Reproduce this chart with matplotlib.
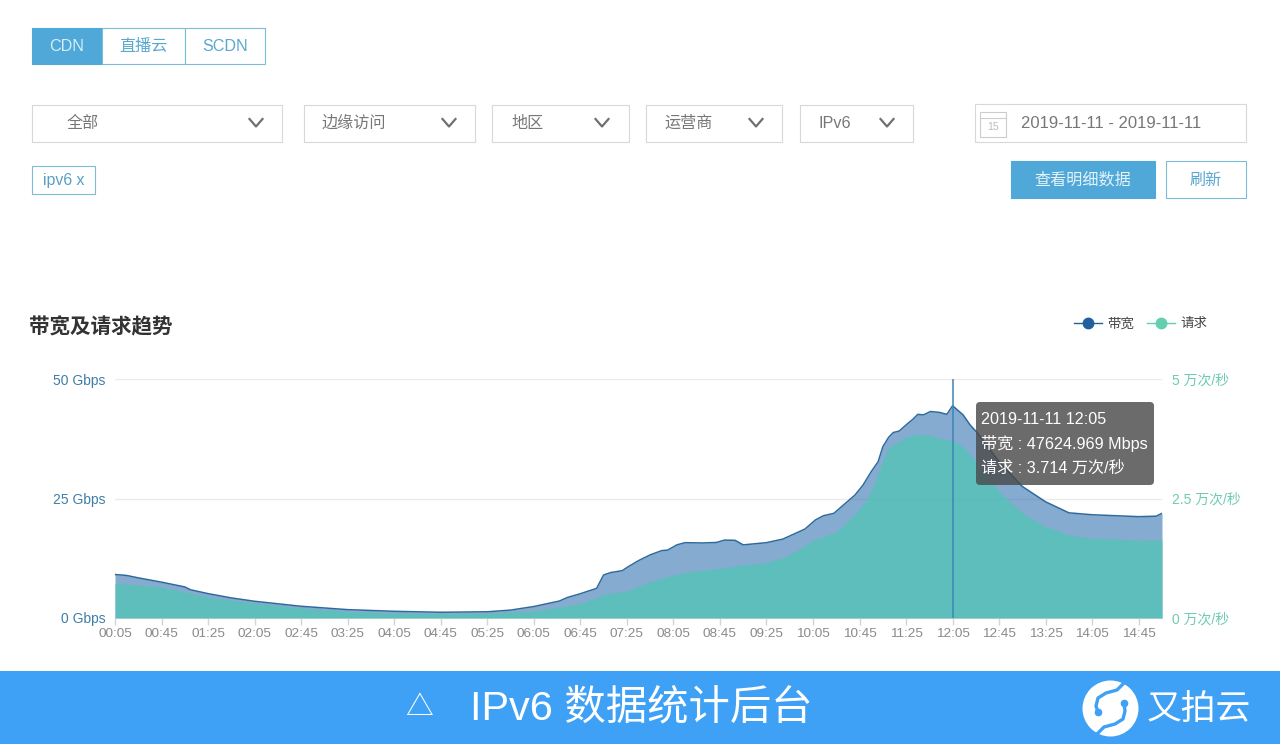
import matplotlib
matplotlib.use('Agg')
import matplotlib.pyplot as plt
from matplotlib.patches import Rectangle, FancyBboxPatch, Circle
from matplotlib.lines import Line2D

plt.rcParams['font.family'] = ['Liberation Sans', 'Noto Sans CJK SC']

# bandwidth, Gbps
bw_times = ['00:05', '00:15', '00:25', '00:45', '01:05', '01:10', '01:25', '01:45', '02:05', '02:45',
            '03:25', '04:05', '04:45', '05:25', '05:45', '06:05', '06:27', '06:34', '06:44', '06:59',
            '07:05', '07:11', '07:21', '07:26', '07:35', '07:45', '07:55', '08:00', '08:08', '08:15',
            '08:30', '08:42', '08:49', '08:58', '09:05', '09:25', '09:39', '09:58', '10:07', '10:14',
            '10:23', '10:31', '10:41', '10:48', '10:55', '11:01', '11:05', '11:10', '11:14', '11:19',
            '11:26', '11:31', '11:35', '11:40', '11:46', '11:54', '12:00', '12:05', '12:14', '12:20',
            '12:26', '12:45', '13:05', '13:25', '13:45', '14:05', '14:25', '14:45', '15:00', '15:05']
bw_values = [9.1, 8.9, 8.4, 7.5, 6.5, 5.9, 5.1, 4.2, 3.5, 2.45,
             1.75, 1.4, 1.2, 1.3, 1.65, 2.4, 3.55, 4.3, 5.0, 6.2,
             9.0, 9.5, 9.9, 10.7, 12.0, 13.2, 14.1, 14.2, 15.3, 15.76,
             15.7, 15.8, 16.3, 16.25, 15.3, 15.76, 16.5, 18.6, 20.5, 21.4,
             21.9, 23.6, 25.7, 27.8, 30.6, 32.7, 35.8, 37.8, 38.8, 39.1,
             40.6, 41.6, 42.6, 42.5, 43.2, 43.0, 42.6, 44.4, 42.5, 40.4,
             38.8, 32.7, 27.5, 24.3, 22.0, 21.6, 21.4, 21.2, 21.3, 21.9]

# requests, 10k/s
req_times = ['00:05', '00:45', '01:25', '02:05', '02:45', '03:25', '04:05', '04:45', '05:25', '06:05',
             '06:45', '07:05', '07:25', '07:45', '08:05', '08:25', '08:45', '09:05', '09:25', '09:45',
             '10:05', '10:25', '10:42', '10:51', '10:58', '11:04', '11:10', '11:17', '11:26', '11:34',
             '11:44', '11:54', '12:05', '12:14', '12:23', '12:45', '13:05', '13:25', '13:45', '14:05',
             '14:45', '15:05']
req_values = [0.73, 0.65, 0.44, 0.31, 0.21, 0.14, 0.105, 0.09, 0.10, 0.15,
              0.30, 0.49, 0.57, 0.76, 0.90, 0.99, 1.04, 1.11, 1.16, 1.32,
              1.63, 1.80, 2.20, 2.47, 2.82, 3.24, 3.56, 3.67, 3.79, 3.84,
              3.84, 3.76, 3.71, 3.58, 3.34, 2.64, 2.20, 1.91, 1.74, 1.67,
              1.63, 1.63]

xtick_labels = ['00:05', '00:45', '01:25', '02:05', '02:45', '03:25', '04:05', '04:45', '05:25', '06:05',
                '06:45', '07:25', '08:05', '08:45', '09:25', '10:05', '10:45', '11:25', '12:05', '12:45',
                '13:25', '14:05', '14:45']
bw_ticks = [0, 25, 50]
bw_tick_labels = ['0 Gbps', '25 Gbps', '50 Gbps']
req_ticks = [0, 2.5, 5]
req_tick_labels = ['0 万次/秒', '2.5 万次/秒', '5 万次/秒']


def to_min(t):
    h, m = t.split(':')
    return int(h) * 60 + int(m)


BLUE = '#4fa8d8'
EDGE = '#7dbbd9'
GREY = '#777777'
BANNER = '#3fa1f6'

fig = plt.figure(figsize=(12.8, 7.44), dpi=100, facecolor='white')

"""-------------------------------- chart --------------------------------"""
ax = fig.add_axes([115 / 1280, (744 - 618) / 744, 1047 / 1280, 239 / 744])
bw_x = [to_min(t) for t in bw_times]
req_x = [to_min(t) for t in req_times]
ax.grid(axis='y', color='#ebebeb', lw=1)
ax.set_axisbelow(True)
ax.fill_between(bw_x, bw_values, 0, color='#2f6fae', alpha=0.58, lw=0)
line_bw, = ax.plot(bw_x, bw_values, color='#2f6a9c', lw=1.1)
ax.set_xlim(5, 905)
ax.set_ylim(0, 50)
ax.set_xticks([to_min(t) for t in xtick_labels])
ax.set_xticklabels(xtick_labels, fontsize=9.7, color='#8a8a8a')
ax.set_yticks(bw_ticks)
ax.set_yticklabels(bw_tick_labels, fontsize=10, color='#3f7ea8')
ax.tick_params(axis='x', length=5, width=1, color='#d5d5d5', pad=2.5)
ax.tick_params(axis='y', length=0, pad=7)
for s in ['top', 'left', 'right']:
    ax.spines[s].set_visible(False)
ax.spines['bottom'].set_color('#d5d5d5')

ax2 = ax.twinx()
ax2.fill_between(req_x, req_values, 0, color='#55c3b8', alpha=0.8, lw=0)
ax2.set_ylim(0, 5)
ax2.set_yticks(req_ticks)
ax2.set_yticklabels(req_tick_labels, fontsize=10, color='#6fcbb2')
ax2.tick_params(axis='y', length=0, pad=7)
for s in ['top', 'left', 'right', 'bottom']:
    ax2.spines[s].set_visible(False)
ax2.axvline(to_min('12:05'), color='#3a86b7', lw=1.1)

handles = [Line2D([], [], color='#1f5f9f', marker='o', ms=7.5, lw=1),
           Line2D([], [], color='#63cfae', marker='o', ms=7.5, lw=1)]
fig.legend(handles, ['带宽', '请求'], ncol=2, frameon=False, fontsize=9.7, labelcolor='#444444',
           loc='center right', bbox_to_anchor=(1220 / 1280, 1 - 324 / 744),
           handlelength=2.08, handletextpad=0.45, columnspacing=0.9)

"""-------------------------------- page furniture, pixel coordinates --------------------------------"""
ui = fig.add_axes([0, 0, 1, 1], facecolor='none')
ui.set_xlim(0, 1280)
ui.set_ylim(744, 0)
ui.axis('off')


def box(x0, y0, x1, y1, edge=EDGE, face='white', lw=0.8):
    ui.add_patch(Rectangle((x0, y0), x1 - x0, y1 - y0, fc=face, ec=edge, lw=lw))


def label(x, y, s, size=11.6, color=GREY, ha='left', **kw):
    ui.text(x, y, s, fontsize=size, color=color, ha=ha, va='center', **kw)


def chevron(x, y):
    ui.plot([x - 6.5, x, x + 6.5], [y - 4, y + 3.5, y - 4], color='#707070', lw=1.6)


# tabs
box(32, 28, 102, 64, face=BLUE, edge=BLUE)
box(102, 28, 185, 64)
box(185, 28, 265, 64)
label(67, 46.5, 'CDN', color='#d5edf7', ha='center')
label(143.5, 46.5, '直播云', color='#5aa7cf', ha='center')
label(225, 46.5, 'SCDN', color='#5aa7cf', ha='center')

# drop-downs
for x0, x1, txt, tx, cx in [(32, 282, '全部', 67, 256), (304, 475, '边缘访问', 322, 449),
                            (492, 629, '地区', 511, 602), (646, 782, '运营商', 664, 756),
                            (800, 913, 'IPv6', 818, 887)]:
    box(x0, 105, x1, 142, edge='#d8d8d8')
    label(tx, 123.5, txt)
    chevron(cx, 123)

# date box
box(975, 104, 1246, 142, edge='#d8d8d8')
box(980, 112, 1006, 137, edge='#cccccc', lw=0.8)
ui.plot([980, 1006], [118, 118], color='#cccccc', lw=0.8)
label(993, 127, '15', size=7.5, color='#bbbbbb', ha='center')
label(1021, 124, '2019-11-11 - 2019-11-11', size=12)

# tag and buttons
box(32, 166, 95, 194)
label(63.5, 181, 'ipv6 x', size=11.4, color='#5a9fc4', ha='center')
box(1011, 161, 1155, 198, face=BLUE, edge=BLUE)
label(1083, 180, '查看明细数据', color='#e4f3fa', ha='center')
box(1166, 161, 1246, 198)
label(1206, 180, '刷新', color='#5aa7cf', ha='center')

label(29, 327, '带宽及请求趋势', size=14.8, color='#333333', fontweight='bold')

# tooltip
ui.add_patch(FancyBboxPatch((979, 405), 172, 77, boxstyle='round,pad=3,rounding_size=4',
                            fc='#4a4a4a', ec='none', alpha=0.82))
label(981, 420, '2019-11-11 12:05', size=11.6, color='white')
label(981, 444, '带宽 : 47624.969 Mbps', size=11.6, color='white')
label(981, 468, '请求 : 3.714 万次/秒', size=11.6, color='white')

# banner
ui.add_patch(Rectangle((0, 671), 1280, 73, fc=BANNER, ec='none'))
label(419, 708, '△', size=20, color='white', ha='center')
label(470, 708, 'IPv6 数据统计后台', size=29.8, color='white')

# logo
ui.add_patch(Circle((1110.5, 708.5), 28, fc='white', ec='none'))
logo_left_x = [1127, 1117, 1106, 1098, 1096, 1098]
logo_left_y = [680, 690, 693, 698, 706, 712]
logo_right_x = [1094, 1104, 1115, 1123, 1125, 1124]
logo_right_y = [737, 727, 724, 719, 711, 703]
ui.plot(logo_left_x, logo_left_y, color=BANNER, lw=2.4, solid_joinstyle='round')
ui.plot(logo_right_x, logo_right_y, color=BANNER, lw=2.4, solid_joinstyle='round')
ui.plot([1098, 1124], [712, 703], ls='none', marker='o', ms=4.5, color=BANNER)
label(1147, 709, '又拍云', size=25, color='white')

fig.savefig('out.png', dpi=100)
